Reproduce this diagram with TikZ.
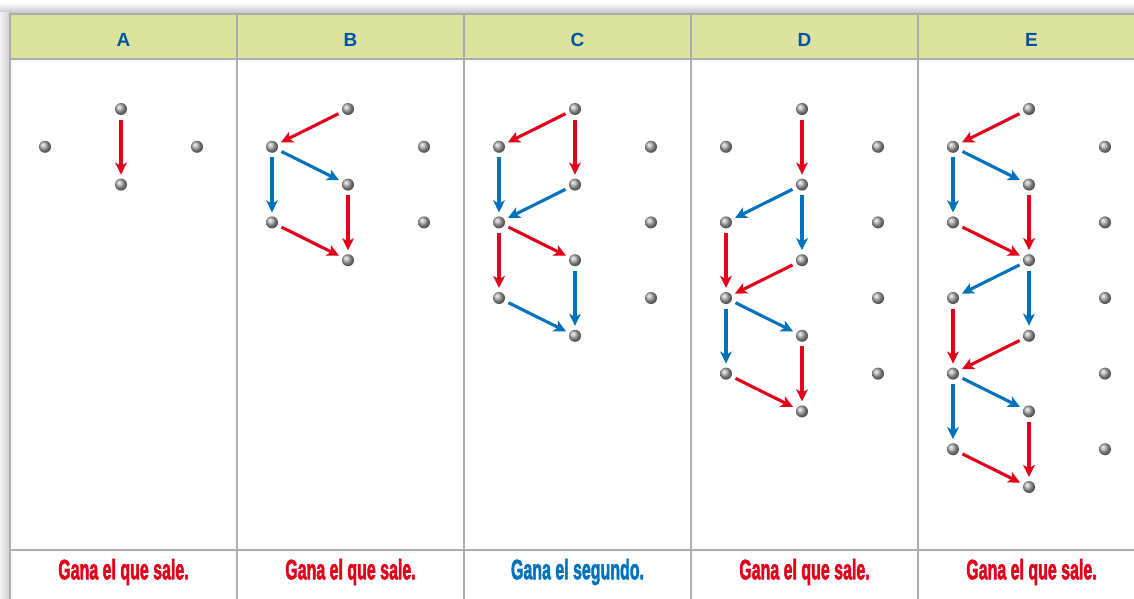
\documentclass[tikz,border=0pt]{standalone}
\usepackage{fontspec}
\setmainfont{Liberation Sans}
\newfontfamily\resfont[BoldFeatures={FakeBold=2.5}]{Liberation Sans}
\usetikzlibrary{arrows.meta,positioning}
\definecolor{hdrgreen}{RGB}{219,227,158}
\definecolor{hdrblue}{RGB}{0,84,164}
\definecolor{gridgray}{RGB}{172,172,172}
\definecolor{winred}{RGB}{226,0,26}
\definecolor{winblue}{RGB}{0,114,188}
\tikzset{
  dot/.style={circle,inner sep=0pt,minimum size=6pt,shading=ball,ball color=gray!65},
  move/.style={line width=1.55pt,-{Stealth[length=6pt,width=5.8pt,inset=1.6pt]},
    shorten <=2.1pt,shorten >=1.8pt},
  redmove/.style={move,winred},
  bluemove/.style={move,winblue},
  head/.style={font=\bfseries\fontsize{9.5}{10}\selectfont,text=hdrblue},
  result/.style={font=\resfont\bfseries\fontsize{14}{14}\selectfont}
}
\begin{document}
\begin{tikzpicture}[x=0.5pt,y=-0.5pt]
    \useasboundingbox (0,0) rectangle (1134,599);
    % shadow round the table
    \shade[top color=white,bottom color=gray!45] (0,2) rectangle (1134,13);
    \shade[left color=white!90!gray,right color=gray!35] (0,13) rectangle (9,599);
    \fill[white] (10,14) rectangle (1134,599);
    \fill[hdrgreen] (10,14) rectangle (1134,59);
    \draw[gridgray,line width=1pt] (10,599) -- (10,14) -- (1134,14);
    \draw[gridgray,line width=1.1pt] (10,59) -- (1134,59);
    \draw[gridgray,line width=1pt] (10,550) -- (1134,550);
    \foreach \x in {237,464,691,918}
      \draw[gridgray,line width=1pt] (\x,14) -- (\x,599);
    % headers and results
    \foreach \col/\cx/\txt/\clr in {A/123.5/sale/winred,B/350.5/sale/winred,
        C/577.5/segundo/winblue,D/804.5/sale/winred,E/1031.5/sale/winred}{
      \node[head] (h\col) at (\cx,40) {\col};
      \ifnum\pdfstrcmp{\txt}{sale}=0
        \node[result,text=\clr] (res\col) at (\cx,572) {\scalebox{0.57}[1]{Gana el que sale.}};
      \else
        \node[result,text=\clr] (res\col) at (\cx,572) {\scalebox{0.57}[1]{Gana el segundo.}};
      \fi
    }
    % dots: centre column on even rows, sides on odd rows
    \foreach \col/\cx/\n [evaluate=\n as \h using int(\n/2)] in
        {A/121/2,B/348/4,C/575/6,D/802/8,E/1029/10}{
      \foreach \r in {0,2,...,\n}
        \node[dot] (\col c\r) at (\cx,109+37.8*\r) {};
      \foreach \k [evaluate=\k as \r using int(2*\k-1)] in {1,...,\h}{
        \node[dot] (\col l\r) at (\cx-76,109+37.8*\r) {};
        \node[dot] (\col r\r) at (\cx+76,109+37.8*\r) {};
      }
    }
    % A
    \draw[redmove] (Ac0) -- (Ac2);
    % B
    \draw[redmove] (Bc0) -- (Bl1);
    \draw[bluemove] (Bl1) -- (Bc2);
    \draw[bluemove] (Bl1) -- (Bl3);
    \draw[redmove] (Bc2) -- (Bc4);
    \draw[redmove] (Bl3) -- (Bc4);
    % C
    \draw[redmove] (Cc0) -- (Cl1);
    \draw[redmove] (Cc0) -- (Cc2);
    \draw[bluemove] (Cl1) -- (Cl3);
    \draw[bluemove] (Cc2) -- (Cl3);
    \draw[redmove] (Cl3) -- (Cc4);
    \draw[redmove] (Cl3) -- (Cl5);
    \draw[bluemove] (Cc4) -- (Cc6);
    \draw[bluemove] (Cl5) -- (Cc6);
    % D
    \draw[redmove] (Dc0) -- (Dc2);
    \draw[bluemove] (Dc2) -- (Dl3);
    \draw[bluemove] (Dc2) -- (Dc4);
    \draw[redmove] (Dl3) -- (Dl5);
    \draw[redmove] (Dc4) -- (Dl5);
    \draw[bluemove] (Dl5) -- (Dc6);
    \draw[bluemove] (Dl5) -- (Dl7);
    \draw[redmove] (Dc6) -- (Dc8);
    \draw[redmove] (Dl7) -- (Dc8);
    % E
    \draw[redmove] (Ec0) -- (El1);
    \draw[bluemove] (El1) -- (Ec2);
    \draw[bluemove] (El1) -- (El3);
    \draw[redmove] (Ec2) -- (Ec4);
    \draw[redmove] (El3) -- (Ec4);
    \draw[bluemove] (Ec4) -- (El5);
    \draw[bluemove] (Ec4) -- (Ec6);
    \draw[redmove] (El5) -- (El7);
    \draw[redmove] (Ec6) -- (El7);
    \draw[bluemove] (El7) -- (Ec8);
    \draw[bluemove] (El7) -- (El9);
    \draw[redmove] (Ec8) -- (Ec10);
    \draw[redmove] (El9) -- (Ec10);
\end{tikzpicture}
\end{document}
